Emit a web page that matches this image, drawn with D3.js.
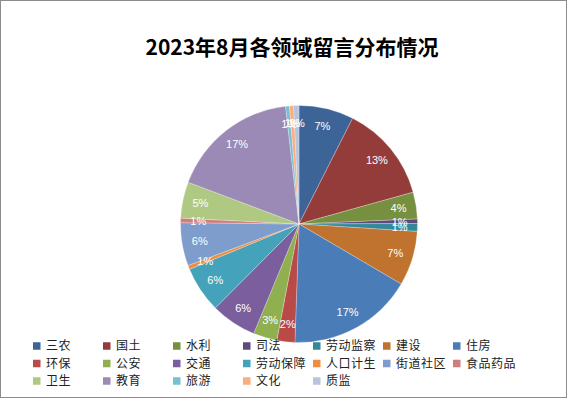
<!DOCTYPE html>
<html><head><meta charset="utf-8">
<script src="https://cdn.jsdelivr.net/npm/d3@7"></script>
<style>body{margin:0;background:#fff}svg{display:block}</style>
</head><body>
<svg id="c" width="568" height="399"></svg>
<script>
const title = "2023年8月各领域留言分布情况";
const categories = ["三农","国土","水利","司法","劳动监察","建设","住房","环保","公安","交通","劳动保障","人口计生","街道社区","食品药品","卫生","教育","旅游","文化","质监"];
const values = [7.47,13.2,3.66,0.6,1.07,7.45,17.1,2.45,3.25,6.22,6.28,0.55,5.88,0.61,4.95,17.45,0.52,0.57,0.72];
const colors = ["#3C6497","#943C3A","#77903F","#5F4A7C","#35889B","#C0722F","#4A7CB8","#B84A47","#90B04F","#7A5E9D","#45A2BB","#EE8E3E","#7E9DCD","#CE7E7C","#AFC982","#9C8AB6","#78BFD3","#F9AE7D","#B5C4DF"];

const svg = d3.select("#c");
svg.append("rect").attr("x",0.5).attr("y",0.5).attr("width",566).attr("height",397)
  .attr("fill","#fff").attr("stroke","#8c8c8c").attr("stroke-width",1);

svg.append("text").attr("x",292).attr("y",55).attr("text-anchor","middle")
  .attr("font-family","'Noto Sans CJK SC', sans-serif").attr("font-weight","bold")
  .attr("font-size",21).attr("fill","#000").text(title);

const cx = 299, cy = 224, r = 118.5;
const total = d3.sum(values);
const data = categories.map((c,i)=>({c, v: values[i], i}));
const pie = d3.pie().value(d=>d.v).sort(null);
const arcs = pie(data);
const arc = d3.arc().innerRadius(0).outerRadius(r);
const labelArc = d3.arc().innerRadius(r*0.85).outerRadius(r*0.85);
const color = d3.scaleOrdinal().domain(categories).range(colors);
const g = svg.append("g").attr("transform",`translate(${cx},${cy})`);
g.selectAll("path").data(arcs).join("path")
  .attr("d",arc).attr("fill",d=>color(d.data.c))
  .attr("stroke","#fff").attr("stroke-opacity",0.5).attr("stroke-width",0.5);
const fmt = d3.format(".0%");
g.selectAll("text").data(arcs).join("text")
  .attr("transform",d=>`translate(${labelArc.centroid(d)})`)
  .attr("text-anchor","middle").attr("dy","0.35em")
  .attr("font-family","'Liberation Sans', Arial, sans-serif").attr("font-size",11)
  .attr("fill","#fff").text(d=>fmt(d.data.v/total));

const legend = svg.append("g");
const cols = 7, x0 = 33, colW = 70, y0 = 346, rowH = 17.5, sq = 7.5;
const items = legend.selectAll("g").data(categories).join("g")
  .attr("transform",(d,i)=>`translate(${x0 + (i%cols)*colW},${y0 + Math.floor(i/cols)*rowH})`);
items.append("rect").attr("x",0).attr("y",-sq/2).attr("width",sq).attr("height",sq)
  .attr("fill",d=>color(d));
items.append("text").attr("x",13).attr("dy","0.36em")
  .attr("font-family","'Noto Sans CJK SC', sans-serif").attr("font-size",12)
  .attr("letter-spacing",0.5).attr("fill","#222").text(d=>d);
</script>
</body></html>
